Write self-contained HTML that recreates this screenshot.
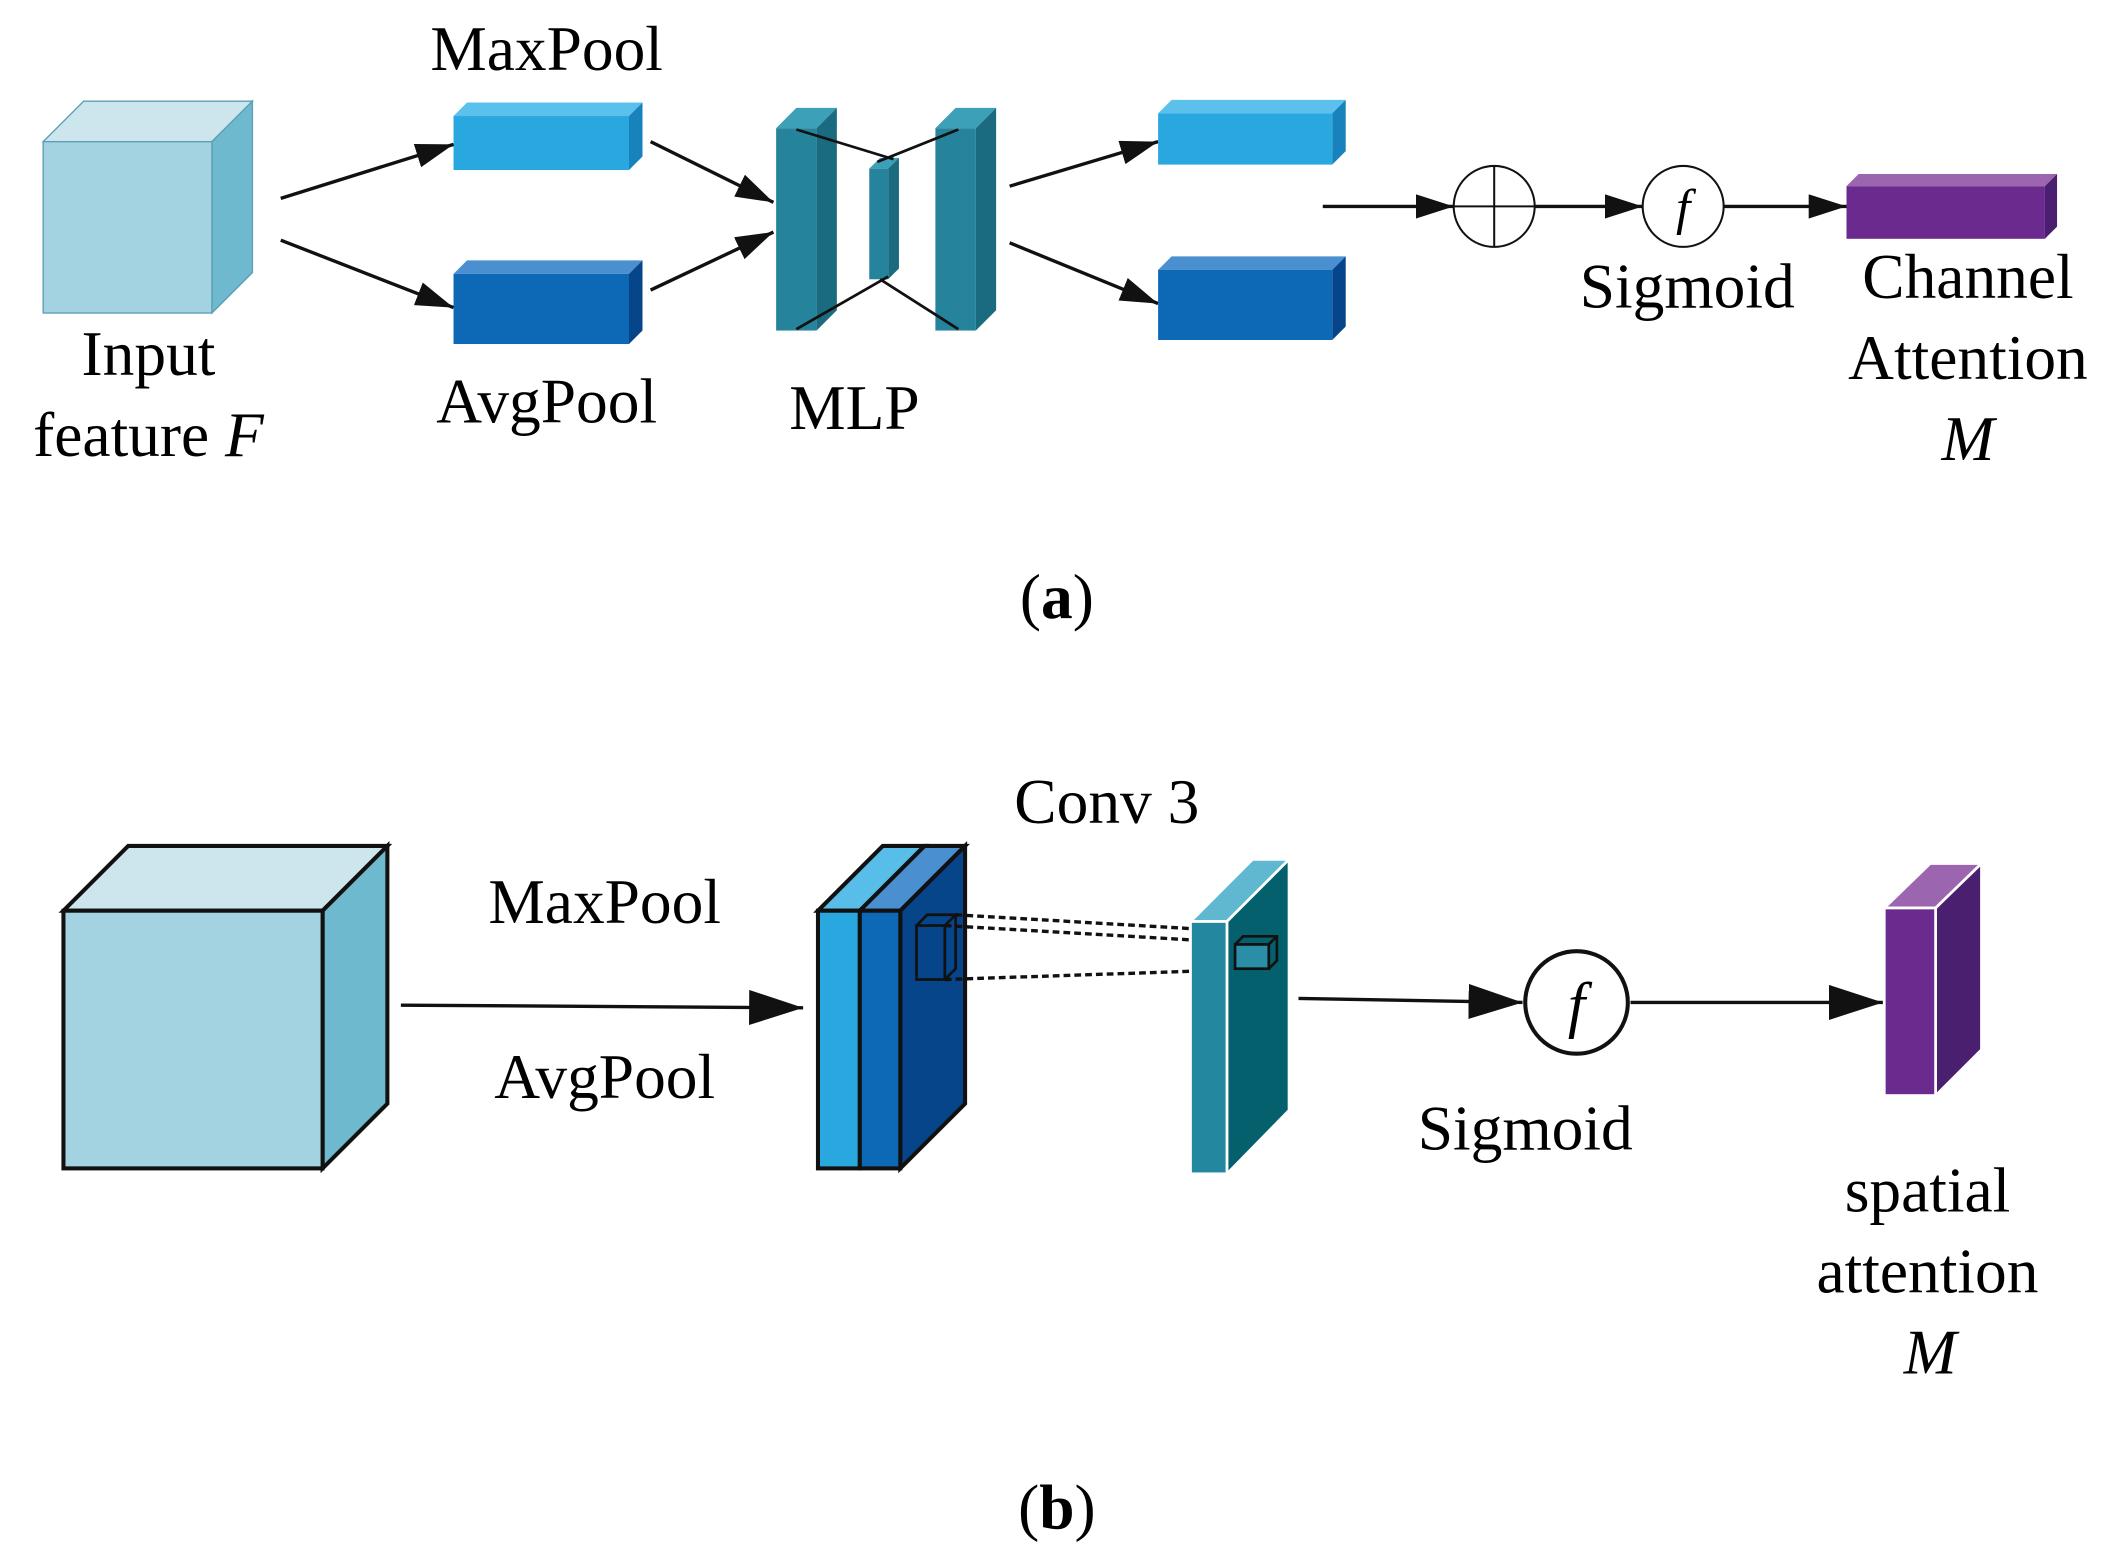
<!DOCTYPE html>
<html><head><meta charset="utf-8"><style>html,body{margin:0;padding:0;background:#fff}svg{display:block}</style></head>
<body>
<svg width="2107" height="1561" viewBox="0 0 1561 1157" preserveAspectRatio="none" xmlns="http://www.w3.org/2000/svg" font-family="Liberation Serif, serif" font-size="47" text-anchor="middle">
<defs>
<marker id="ahb" markerWidth="40" markerHeight="26" refX="40" refY="13" orient="auto" markerUnits="userSpaceOnUse"><path d="M0,0 L40,13 L0,26 Z" fill="#111"/></marker>
<marker id="ahm" markerWidth="28" markerHeight="18" refX="28" refY="9" orient="auto" markerUnits="userSpaceOnUse"><path d="M0,0 L28,9 L0,18 Z" fill="#111"/></marker>
</defs>
<rect width="1561" height="1157" fill="#fff"/>
<g stroke="#5a9fb3" stroke-width="1">
<polygon points="32,105 62,75 187,75 157,105" fill="#cde6ee"/>
<polygon points="157,105 187,75 187,202 157,232" fill="#6fb9cf"/>
<rect x="32" y="105" width="125" height="127" fill="#a3d2e0"/>
</g>
<text x="110" y="278">Input</text>
<text x="110" y="338">feature <tspan font-style="italic">F</tspan></text>
<polygon points="336,86 346,76 476,76 466,86" fill="#5cc0ec"/>
<polygon points="466,86 476,76 476,116 466,126" fill="#1782bb"/>
<rect x="336" y="86" width="130" height="40" fill="#29a8e0"/>
<text x="405" y="52">MaxPool</text>
<polygon points="336,203 346,193 476,193 466,203" fill="#4a8fd0"/>
<polygon points="466,203 476,193 476,245 466,255" fill="#07458a"/>
<rect x="336" y="203" width="130" height="52" fill="#0d68b5"/>
<text x="405" y="313">AvgPool</text>
<g stroke="#111" stroke-width="2.5" marker-end="url(#ahm)">
<line x1="208" y1="147" x2="336" y2="107"/>
<line x1="208" y1="178" x2="336" y2="228"/>
<line x1="482" y1="105" x2="573" y2="150"/>
<line x1="482" y1="215" x2="573" y2="172"/>
<line x1="748" y1="138" x2="858" y2="105"/>
<line x1="748" y1="180" x2="858" y2="225"/>
<line x1="980" y1="153" x2="1077" y2="153"/>
<line x1="1137" y1="153" x2="1217" y2="153"/>
<line x1="1277" y1="153" x2="1368" y2="153"/>
</g>
<polygon points="575,95 590,80 620,80 605,95" fill="#3ba0b8"/>
<polygon points="605,95 620,80 620,230 605,245" fill="#1a6a80"/>
<rect x="575" y="95" width="30" height="150" fill="#26839c"/>
<polygon points="644,125 652,117 666,117 658,125" fill="#3ba0b8"/>
<polygon points="658,125 666,117 666,199 658,207" fill="#1a6a80"/>
<rect x="644" y="125" width="14" height="82" fill="#26839c"/>
<polygon points="693,95 708,80 738,80 723,95" fill="#3ba0b8"/>
<polygon points="723,95 738,80 738,230 723,245" fill="#1a6a80"/>
<rect x="693" y="95" width="30" height="150" fill="#26839c"/>
<g stroke="#111" stroke-width="2">
<line x1="590" y1="96" x2="662" y2="118"/>
<line x1="710" y1="96" x2="650" y2="120"/>
<line x1="590" y1="244" x2="658" y2="205"/>
<line x1="652" y1="207" x2="710" y2="244"/>
</g>
<text x="633" y="318">MLP</text>
<polygon points="858,84 868,74 997,74 987,84" fill="#5cc0ec"/>
<polygon points="987,84 997,74 997,112 987,122" fill="#1782bb"/>
<rect x="858" y="84" width="129" height="38" fill="#29a8e0"/>
<polygon points="858,200 868,190 997,190 987,200" fill="#4a8fd0"/>
<polygon points="987,200 997,190 997,242 987,252" fill="#07458a"/>
<rect x="858" y="200" width="129" height="52" fill="#0d68b5"/>
<circle cx="1107" cy="153" r="30" fill="#fff" stroke="#111" stroke-width="1.5"/>
<line x1="1077" y1="153" x2="1137" y2="153" stroke="#111" stroke-width="1.5"/>
<line x1="1107" y1="123" x2="1107" y2="183" stroke="#111" stroke-width="1.5"/>
<circle cx="1247" cy="153" r="30" fill="#fff" stroke="#111" stroke-width="1.5"/>
<text x="1247" y="166" font-style="italic" font-size="38">f</text>
<text x="1250" y="228">Sigmoid</text>
<polygon points="1368,138 1377,129 1524,129 1515,138" fill="#9b65b0"/>
<polygon points="1515,138 1524,129 1524,168 1515,177" fill="#4a1f70"/>
<rect x="1368" y="138" width="147" height="39" fill="#6a2a8e"/>
<text x="1458" y="221">Channel</text>
<text x="1458" y="281">Attention</text>
<text x="1458" y="341" font-style="italic">M</text>
<text x="783" y="458">(<tspan font-weight="bold">a</tspan>)</text>
<g stroke="#111" stroke-width="3" stroke-linejoin="miter">
<polygon points="47,675 95,627 287,627 239,675" fill="#cde6ee"/>
<polygon points="239,675 287,627 287,818 239,866" fill="#6fb9cf"/>
<rect x="47" y="675" width="192" height="191" fill="#a3d2e0"/>
</g>
<line x1="297" y1="745" x2="595" y2="747" stroke="#111" stroke-width="2.5" marker-end="url(#ahb)"/>
<text x="448" y="684">MaxPool</text>
<text x="448" y="814">AvgPool</text>
<g stroke="#111" stroke-width="3">
<polygon points="606,675 654,627 685,627 637,675" fill="#58bde8"/>
<polygon points="637,675 685,627 715,627 667,675" fill="#4a8fd0"/>
<polygon points="667,675 715,627 715,818 667,866" fill="#07458a"/>
<rect x="606" y="675" width="31" height="191" fill="#29a8e0"/>
<rect x="637" y="675" width="30" height="191" fill="#0d68b5"/>
</g>
<g stroke="#111" stroke-width="2" fill="none">
<rect x="679" y="686" width="21" height="40"/>
<polyline points="679,686 687,678 708,678 708,718 700,726"/>
<line x1="700" y1="686" x2="708" y2="678"/>
</g>
<g stroke="#111" stroke-width="2.5" stroke-dasharray="5,3">
<line x1="708" y1="678" x2="945" y2="692"/>
<line x1="700" y1="686" x2="940" y2="700"/>
<line x1="700" y1="726" x2="940" y2="718"/>
</g>
<g stroke="#fff" stroke-width="2">
<polygon points="882,683 928,637 955,637 909,683" fill="#60b8d0"/>
<polygon points="909,683 955,637 955,823 909,870" fill="#05606e"/>
<rect x="882" y="683" width="27" height="187" fill="#23889f"/>
</g>
<g stroke="#111" stroke-width="2" fill="none">
<rect x="915" y="700" width="25" height="18" fill="#2a8fa6"/>
<polyline points="915,700 921,694 946,694 946,712 940,718"/>
<line x1="940" y1="700" x2="946" y2="694"/>
</g>
<text x="820" y="610">Conv 3</text>
<line x1="962" y1="740" x2="1128" y2="743" stroke="#111" stroke-width="2.5" marker-end="url(#ahb)"/>
<circle cx="1168" cy="743" r="38" fill="#fff" stroke="#111" stroke-width="3"/>
<text x="1168" y="760" font-style="italic" font-size="46">f</text>
<line x1="1208" y1="743" x2="1395" y2="743" stroke="#111" stroke-width="2.5" marker-end="url(#ahb)"/>
<text x="1130" y="852">Sigmoid</text>
<g stroke="#fff" stroke-width="2">
<polygon points="1396,673 1430,640 1468,640 1434,673" fill="#9b65b0"/>
<polygon points="1434,673 1468,640 1468,778 1434,812" fill="#4a1f70"/>
<rect x="1396" y="673" width="38" height="139" fill="#6a2a8e"/>
</g>
<text x="1428" y="898">spatial</text>
<text x="1428" y="958">attention</text>
<text x="1430" y="1018" font-style="italic">M</text>
<text x="783" y="1133">(<tspan font-weight="bold">b</tspan>)</text>
</svg>
</body></html>
